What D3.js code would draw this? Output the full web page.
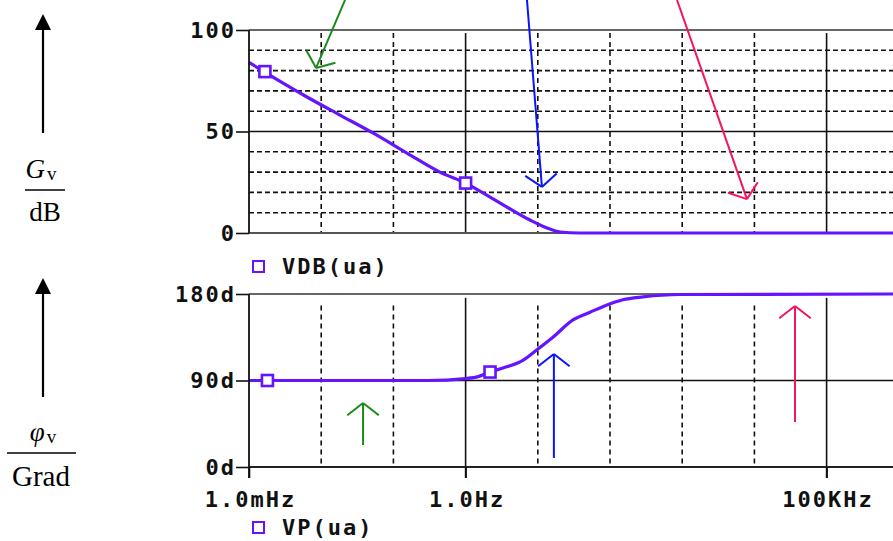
<!DOCTYPE html>
<html><head><meta charset="utf-8">
<script src="https://cdn.jsdelivr.net/npm/d3@7"></script>
<style>body{margin:0;background:#fff;overflow:hidden}</style>
</head><body><svg id="c" width="893" height="541"></svg>
<script>
// ---- data ----
const magFreq = [0.001, 0.00215, 0.00635, 0.0182, 0.052, 0.154, 0.44, 1, 2.18, 3.74, 7.8, 13.4, 20.3, 38, 1e6];
const magDb   = [84, 76.8, 67, 58.1, 49.3, 39.4, 30, 24.6, 17.7, 12.8, 6.4, 2.5, 0.5, 0, 0];
const phFreq  = [0.001, 0.3, 1, 1.5, 2.18, 3.3, 6.2, 9.75, 16.2, 30.7, 52.8, 90.8, 151, 286, 933, 1e6];
const phDeg   = [90, 90, 92, 94, 98.8, 103, 111, 122, 135, 153, 161, 168.6, 174, 177, 179.5, 180];
const magMarkerFreq = [0.00166, 1.0];
const magMarkerDb   = [79.5, 24.6];
const phMarkerFreq  = [0.0018, 2.18];
const phMarkerDeg   = [90, 98.8];
const xTickValues = [0.001, 1, 100000];
const xTickLabels = ["1.0mHz", "1.0Hz", "100KHz"];
const xMajorGrid = [1, 100000];
const xDecadeGrid = [0.01, 0.1, 10, 100, 1000, 10000];
const magTicks = [0, 50, 100];
const magTickLabels = ["0", "50", "100"];
const magMinorGrid = [10, 20, 30, 40, 60, 70, 80, 90];
const phTicks = [0, 90, 180];
const phTickLabels = ["0d", "90d", "180d"];
const legendLabels = ["VDB(ua)", "VP(ua)"];
// annotation arrows: [panel, tailFreq, tailVal, tipFreq, tipVal, color]
const annotations = [
  ["mag", 0.0214, 114.8, 0.0085, 81.3, "#1a8a1a"],
  ["mag", 7.08, 114.8, 11.4, 22.7, "#0a14ff"],
  ["mag", 847, 114.8, 7890, 16.7, "#f5145f"],
  ["ph", 0.038, 22.9, 0.038, 66.6, "#1a8a1a"],
  ["ph", 16.7, 9.4, 16.7, 117.6, "#0a14ff"],
  ["ph", 36500, 46.8, 36500, 167.5, "#f5145f"]
];

// ---- setup ----
const svg = d3.select("#c");
const purple = "#6414ff";
const monoFont = "'DejaVu Sans Mono', monospace";
const fs = 22;
const ls = 2;
const x = d3.scaleLog().domain([1e-3, 1e6]).range([249, 898.8]);
const yMag = d3.scaleLinear().domain([0, 100]).range([233, 30]);
const yPh = d3.scaleLinear().domain([0, 180]).range([467, 294]);
const xR = 893;

function dashedV(g, vals, y0, y1) {
  g.selectAll(null).data(vals).enter().append("line")
    .attr("x1", d => x(d)).attr("x2", d => x(d)).attr("y1", y0).attr("y2", y1)
    .attr("stroke", "#111").attr("stroke-width", 1.6).attr("stroke-dasharray", "5,4");
}

// ---- top panel grid ----
const gTop = svg.append("g");
gTop.selectAll(null).data(magMinorGrid).enter().append("line")
  .attr("x1", x(1e-3)).attr("x2", xR).attr("y1", d => yMag(d)).attr("y2", d => yMag(d))
  .attr("stroke", "#111").attr("stroke-width", 1.6).attr("stroke-dasharray", "5,3");
dashedV(gTop, xDecadeGrid, yMag(98.5), yMag(0));
gTop.selectAll(null).data(xMajorGrid).enter().append("line")
  .attr("x1", d => x(d)).attr("x2", d => x(d)).attr("y1", yMag(98.5)).attr("y2", yMag(0))
  .attr("stroke", "#111").attr("stroke-width", 1.6);
gTop.append("line").attr("x1", x(1e-3)).attr("x2", xR).attr("y1", yMag(50)).attr("y2", yMag(50))
  .attr("stroke", "#111").attr("stroke-width", 1.6);
gTop.append("line").attr("x1", x(1e-3)).attr("x2", xR).attr("y1", yMag(100)).attr("y2", yMag(100))
  .attr("stroke", "#666").attr("stroke-width", 2.2);
gTop.append("line").attr("x1", x(1e-3)).attr("x2", xR).attr("y1", yMag(0)).attr("y2", yMag(0))
  .attr("stroke", "#555").attr("stroke-width", 2.2);

// ---- bottom panel grid ----
const gBot = svg.append("g");
dashedV(gBot, xDecadeGrid, yPh(168), yPh(0));
gBot.selectAll(null).data(xMajorGrid).enter().append("line")
  .attr("x1", d => x(d)).attr("x2", d => x(d)).attr("y1", yPh(176)).attr("y2", yPh(0) + 11)
  .attr("stroke", "#111").attr("stroke-width", 1.6);
gBot.append("line").attr("x1", x(1e-3)).attr("x2", xR).attr("y1", yPh(90)).attr("y2", yPh(90))
  .attr("stroke", "#111").attr("stroke-width", 1.6);
gBot.append("line").attr("x1", x(1e-3)).attr("x2", xR).attr("y1", yPh(180)).attr("y2", yPh(180))
  .attr("stroke", "#666").attr("stroke-width", 2.2);
gBot.append("line").attr("x1", x(1e-3)).attr("x2", xR).attr("y1", yPh(0)).attr("y2", yPh(0))
  .attr("stroke", "#222").attr("stroke-width", 1.8);

// ---- curves ----
const magData = magFreq.map((f, i) => [f, magDb[i]]);
const phData = phFreq.map((f, i) => [f, phDeg[i]]);
svg.append("path").datum(magData)
  .attr("d", d3.line().x(d => x(d[0])).y(d => yMag(d[1])).curve(d3.curveMonotoneX))
  .attr("fill", "none").attr("stroke", purple).attr("stroke-width", 3.2);
svg.append("path").datum(phData)
  .attr("d", d3.line().x(d => x(d[0])).y(d => yPh(d[1])).curve(d3.curveMonotoneX))
  .attr("fill", "none").attr("stroke", purple).attr("stroke-width", 3.2);

function markers(fq, vs, ys) {
  svg.selectAll(null).data(fq).enter().append("rect")
    .attr("x", d => x(d) - 5.5).attr("y", (d, i) => ys(vs[i]) - 5.5)
    .attr("width", 11).attr("height", 11)
    .attr("fill", "#fff").attr("stroke", purple).attr("stroke-width", 2.6);
}
markers(magMarkerFreq, magMarkerDb, yMag);
markers(phMarkerFreq, phMarkerDeg, yPh);

// ---- axes ----
function styleAxisText(sel) {
  sel.selectAll("text").attr("font-family", monoFont).attr("font-weight", "bold")
    .attr("font-size", fs).attr("fill", "#111").style("letter-spacing", ls + "px");
}
const axMag = svg.append("g").attr("transform", `translate(${x(1e-3)},0)`)
  .call(d3.axisLeft(yMag).tickValues(magTicks).tickFormat((d, i) => magTickLabels[i]).tickSize(13).tickPadding(2 - ls));
axMag.select(".domain").remove();
axMag.selectAll(".tick line").attr("stroke", "#111").attr("stroke-width", 1.6);
styleAxisText(axMag);
svg.append("line").attr("x1", x(1e-3)).attr("x2", x(1e-3)).attr("y1", yMag(100)).attr("y2", yMag(0))
  .attr("stroke", "#111").attr("stroke-width", 1.8);

const axPh = svg.append("g").attr("transform", `translate(${x(1e-3)},0)`)
  .call(d3.axisLeft(yPh).tickValues(phTicks).tickFormat((d, i) => phTickLabels[i]).tickSize(13).tickPadding(2 - ls));
axPh.select(".domain").remove();
axPh.selectAll(".tick line").attr("stroke", "#111").attr("stroke-width", 1.6);
styleAxisText(axPh);
svg.append("line").attr("x1", x(1e-3)).attr("x2", x(1e-3)).attr("y1", yPh(180)).attr("y2", yPh(0) + 11)
  .attr("stroke", "#111").attr("stroke-width", 1.8);

const axX = svg.append("g").attr("transform", `translate(0,${yPh(0)})`)
  .call(d3.axisBottom(x).tickValues(xTickValues).tickFormat((d, i) => xTickLabels[i]).tickSize(11).tickPadding(13));
axX.select(".domain").remove();
axX.selectAll(".tick line").attr("stroke", "#111").attr("stroke-width", 1.6);
styleAxisText(axX);
axX.selectAll("text").attr("dx", ls / 2);

// ---- legends ----
const legY = [266, 527];
legendLabels.forEach((lab, i) => {
  svg.append("rect").attr("x", 253).attr("y", legY[i] - 5).attr("width", 11).attr("height", 11)
    .attr("fill", "#fff").attr("stroke", purple).attr("stroke-width", 2);
  svg.append("text").attr("x", 282).attr("y", legY[i]).attr("dy", "0.36em")
    .attr("font-family", monoFont).attr("font-weight", "bold").attr("font-size", fs)
    .attr("fill", "#111").style("letter-spacing", ls + "px").text(lab);
});

// ---- annotation arrows ----
function arrow(x1, y1, x2, y2, color, len, ang) {
  const g = svg.append("g").attr("stroke", color).attr("stroke-width", 2).attr("fill", "none");
  g.append("line").attr("x1", x1).attr("y1", y1).attr("x2", x2).attr("y2", y2);
  const a = Math.atan2(y1 - y2, x1 - x2);
  [a + ang, a - ang].forEach(b => {
    g.append("line").attr("x1", x2).attr("y1", y2)
      .attr("x2", x2 + len * Math.cos(b)).attr("y2", y2 + len * Math.sin(b));
  });
}
annotations.forEach(([p, f1, v1, f2, v2, c]) => {
  const ys = p === "mag" ? yMag : yPh;
  arrow(x(f1), ys(v1), x(f2), ys(v2), c, 20, 52 * Math.PI / 180);
});

// ---- left quantity labels ----
function upArrow(xc, yTip, yEnd) {
  svg.append("line").attr("x1", xc).attr("x2", xc).attr("y1", yTip + 12).attr("y2", yEnd)
    .attr("stroke", "#000").attr("stroke-width", 2.2);
  svg.append("path").attr("d", `M${xc},${yTip} L${xc - 8},${yTip + 16} L${xc + 8},${yTip + 16} Z`).attr("fill", "#000");
}
upArrow(43, 14, 133);
upArrow(43, 278, 397);
const serif = "'Liberation Serif', 'Times New Roman', serif";
const q1 = svg.append("text").attr("x", 41).attr("y", 178).attr("text-anchor", "middle")
  .attr("font-family", serif).attr("font-size", 27).attr("fill", "#000");
q1.append("tspan").attr("font-style", "italic").text("G");
q1.append("tspan").attr("font-size", 19).attr("dx", 2).attr("dy", 2).text("v");
svg.append("line").attr("x1", 25).attr("x2", 65).attr("y1", 190).attr("y2", 190).attr("stroke", "#000").attr("stroke-width", 1.4);
svg.append("text").attr("x", 45).attr("y", 221).attr("text-anchor", "middle")
  .attr("font-family", serif).attr("font-size", 27).attr("fill", "#000").text("dB");
const q2 = svg.append("text").attr("x", 43).attr("y", 441).attr("text-anchor", "middle")
  .attr("font-family", serif).attr("font-size", 27).attr("fill", "#000");
q2.append("tspan").attr("font-style", "italic").text("φ");
q2.append("tspan").attr("font-size", 19).attr("dx", 2).attr("dy", 2).text("v");
svg.append("line").attr("x1", 7).attr("x2", 76).attr("y1", 453).attr("y2", 453).attr("stroke", "#000").attr("stroke-width", 1.4);
svg.append("text").attr("x", 41).attr("y", 486).attr("text-anchor", "middle")
  .attr("font-family", serif).attr("font-size", 29).attr("fill", "#000").text("Grad");
</script></body></html>
